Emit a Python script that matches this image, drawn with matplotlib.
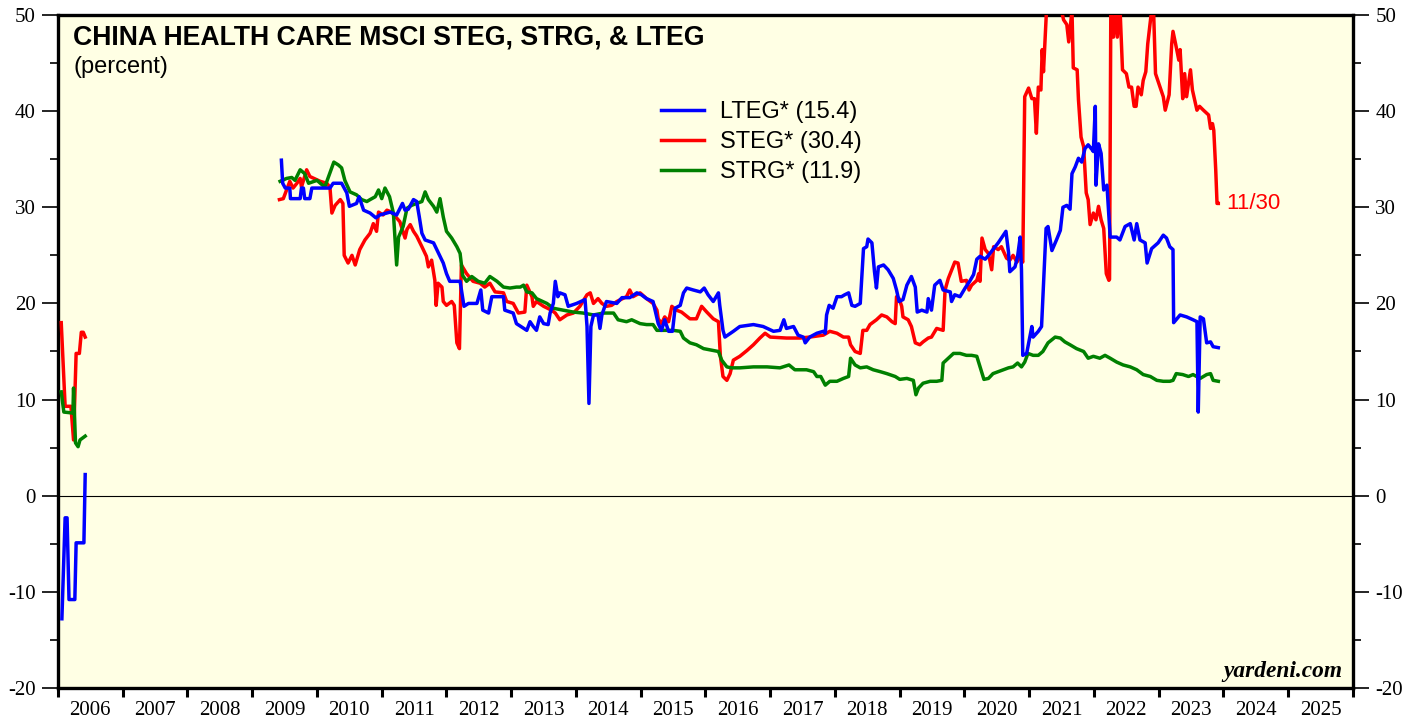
import numpy as np
import matplotlib
matplotlib.use("Agg")
import matplotlib.pyplot as plt
from matplotlib.ticker import FixedLocator, NullFormatter

plt.rcParams["axes.unicode_minus"] = False
nan = float("nan")

# ---------------- data (decimal years, percent) ----------------
lteg_dates = [2006.06, 2006.11, 2006.14, 2006.17, 2006.26, 2006.28, 2006.40, 2006.42, 2006.43,
              2009.45, 2009.47, 2009.51, 2009.58, 2009.59, 2009.74, 2009.76, 2009.79, 2009.81, 2009.89,
              2009.92, 2010.20, 2010.25, 2010.38, 2010.46, 2010.50, 2010.61, 2010.65, 2010.72, 2010.82,
              2010.91, 2010.97, 2011.13, 2011.23, 2011.32, 2011.36, 2011.41, 2011.49, 2011.54, 2011.58,
              2011.62, 2011.67, 2011.80, 2011.85, 2011.90, 2011.95, 2012.00, 2012.05, 2012.21, 2012.27,
              2012.34, 2012.47, 2012.53, 2012.56, 2012.65, 2012.70, 2012.88, 2012.90, 2013.03, 2013.08,
              2013.24, 2013.29, 2013.34, 2013.39, 2013.44, 2013.50, 2013.57, 2013.60, 2013.65, 2013.68,
              2013.72, 2013.75, 2013.83, 2013.88, 2014.01, 2014.14, 2014.17, 2014.20, 2014.23, 2014.27,
              2014.34, 2014.37, 2014.40, 2014.47, 2014.63, 2014.71, 2014.83, 2014.94, 2015.01, 2015.09,
              2015.19, 2015.27, 2015.32, 2015.37, 2015.43, 2015.49, 2015.53, 2015.61, 2015.66, 2015.71,
              2015.81, 2015.92, 2015.98, 2016.04, 2016.12, 2016.20, 2016.22, 2016.27, 2016.30, 2016.43,
              2016.53, 2016.74, 2016.89, 2017.05, 2017.15, 2017.21, 2017.25, 2017.36, 2017.43, 2017.51,
              2017.54, 2017.61, 2017.72, 2017.82, 2017.85, 2017.87, 2017.91, 2017.97, 2018.03, 2018.10,
              2018.15, 2018.21, 2018.26, 2018.31, 2018.39, 2018.44, 2018.49, 2018.51, 2018.57, 2018.61,
              2018.64, 2018.67, 2018.75, 2018.82, 2018.90, 2018.95, 2018.99, 2019.05, 2019.11, 2019.18,
              2019.24, 2019.27, 2019.34, 2019.42, 2019.44, 2019.49, 2019.54, 2019.62, 2019.67, 2019.78,
              2019.80, 2019.85, 2019.93, 2020.01, 2020.08, 2020.14, 2020.19, 2020.24, 2020.32, 2020.37,
              2020.44, 2020.52, 2020.57, 2020.64, 2020.68, 2020.70, 2020.78, 2020.82, 2020.86, 2020.88,
              2020.90, 2020.96, 2021.04, 2021.06, 2021.14, 2021.19, 2021.26, 2021.29, 2021.35, 2021.42,
              2021.48, 2021.52, 2021.58, 2021.63, 2021.66, 2021.71, 2021.76, 2021.81, 2021.86, 2021.91,
              2021.97, 2021.99, 2022.02, 2022.03, 2022.07, 2022.11, 2022.15, 2022.20, 2022.25, 2022.35,
              2022.40, 2022.48, 2022.56, 2022.62, 2022.66, 2022.71, 2022.79, 2022.82, 2022.89, 2022.99,
              2023.07, 2023.12, 2023.17, 2023.22, 2023.23, 2023.33, 2023.43, 2023.53, 2023.59, 2023.61,
              2023.64, 2023.69, 2023.74, 2023.80, 2023.84, 2023.92]
lteg_values = [-12.8, -2.3, -2.3, -10.8, -10.8, -4.9, -4.9, 2.2, nan,
               34.9, 32.5, 32.0, 32.0, 30.9, 30.9, 32.0, 32.0, 30.9, 30.9,
               32.0, 32.0, 32.5, 32.5, 31.5, 30.1, 30.4, 31.1, 29.7, 29.4,
               28.9, 29.2, 29.5, 29.2, 30.4, 29.7, 29.8, 30.8, 30.6, 29.0,
               27.3, 26.6, 26.3, 25.6, 24.9, 24.2, 23.1, 22.3, 22.3, 19.7,
               20.0, 20.0, 21.4, 19.3, 19.0, 20.7, 20.7, 19.3, 19.0, 17.9,
               17.2, 18.1, 17.6, 17.2, 18.6, 17.9, 17.8, 19.0, 20.0, 22.3,
               20.7, 21.1, 20.9, 19.7, 20.0, 20.4, 17.6, 9.6, 17.6, 18.8,
               18.8, 17.4, 18.8, 20.2, 20.0, 20.6, 20.6, 21.1, 20.9, 20.5,
               20.2, 17.9, 17.2, 18.3, 17.1, 17.1, 19.5, 19.8, 21.1, 21.6,
               21.4, 21.2, 21.6, 20.9, 20.2, 21.1, 19.8, 17.2, 16.5, 17.1,
               17.6, 17.8, 17.6, 17.1, 17.2, 18.3, 17.4, 17.6, 16.7, 16.5,
               15.9, 16.5, 16.9, 17.1, 16.9, 18.8, 19.8, 19.5, 20.7, 20.7,
               20.9, 21.1, 19.8, 19.7, 20.0, 25.7, 25.9, 26.7, 26.3, 23.3,
               21.6, 23.8, 24.0, 23.5, 22.6, 21.4, 20.2, 20.4, 21.9, 22.8,
               21.7, 19.1, 19.3, 19.1, 20.5, 19.3, 21.9, 22.4, 21.4, 21.2,
               20.2, 20.9, 20.7, 21.6, 22.3, 23.0, 24.6, 24.9, 24.6, 25.0,
               25.6, 26.3, 26.8, 27.5, 25.3, 23.3, 23.8, 24.9, 26.9, 23.5,
               14.6, 14.8, 17.6, 16.5, 17.1, 17.6, 27.8, 28.0, 25.5, 26.6,
               27.6, 30.0, 30.2, 29.8, 33.5, 34.2, 35.1, 34.7, 36.1, 36.5,
               36.0, 35.8, 40.5, 32.3, 36.6, 35.6, 31.8, 32.3, 26.9, 26.9,
               26.6, 28.0, 28.3, 26.6, 28.3, 26.6, 26.3, 24.2, 25.7, 26.3,
               27.1, 26.8, 25.9, 25.6, 18.0, 18.8, 18.6, 18.3, 18.1, 8.7,
               18.6, 18.4, 15.9, 16.0, 15.5, 15.4]

steg_dates = [2006.05, 2006.11, 2006.20, 2006.24, 2006.28, 2006.33, 2006.36, 2006.39, 2006.42, 2006.43,
              2009.42, 2009.48, 2009.53, 2009.58, 2009.63, 2009.69, 2009.74, 2009.76, 2009.84, 2009.89,
              2010.05, 2010.15, 2010.20, 2010.23, 2010.28, 2010.36, 2010.40, 2010.42, 2010.48, 2010.54,
              2010.59, 2010.66, 2010.74, 2010.82, 2010.87, 2010.92, 2010.95, 2011.02, 2011.08, 2011.15,
              2011.28, 2011.36, 2011.39, 2011.44, 2011.49, 2011.54, 2011.62, 2011.69, 2011.72, 2011.77,
              2011.82, 2011.84, 2011.87, 2011.93, 2011.95, 2012.00, 2012.08, 2012.12, 2012.16, 2012.20,
              2012.23, 2012.31, 2012.41, 2012.52, 2012.59, 2012.67, 2012.75, 2012.88, 2012.93, 2013.03,
              2013.11, 2013.21, 2013.24, 2013.32, 2013.34, 2013.39, 2013.50, 2013.62, 2013.68, 2013.75,
              2013.86, 2013.96, 2014.06, 2014.17, 2014.22, 2014.27, 2014.34, 2014.40, 2014.47, 2014.55,
              2014.63, 2014.78, 2014.83, 2014.88, 2014.99, 2015.09, 2015.19, 2015.25, 2015.27, 2015.32,
              2015.37, 2015.43, 2015.48, 2015.55, 2015.63, 2015.76, 2015.86, 2015.94, 2016.02, 2016.12,
              2016.20, 2016.23, 2016.27, 2016.33, 2016.38, 2016.43, 2016.53, 2016.64, 2016.74, 2016.84,
              2016.92, 2017.00, 2017.25, 2017.46, 2017.61, 2017.82, 2017.92, 2018.03, 2018.13, 2018.21,
              2018.24, 2018.31, 2018.39, 2018.43, 2018.49, 2018.54, 2018.64, 2018.72, 2018.80, 2018.88,
              2018.93, 2018.95, 2018.99, 2019.03, 2019.05, 2019.13, 2019.18, 2019.24, 2019.31, 2019.36,
              2019.44, 2019.49, 2019.57, 2019.67, 2019.70, 2019.75, 2019.85, 2019.90, 2019.95, 2020.03,
              2020.07, 2020.11, 2020.19, 2020.22, 2020.24, 2020.27, 2020.32, 2020.37, 2020.42, 2020.45,
              2020.52, 2020.57, 2020.65, 2020.70, 2020.75, 2020.81, 2020.86, 2020.90, 2020.93, 2020.99,
              2021.04, 2021.08, 2021.11, 2021.14, 2021.18, 2021.20, 2021.22, 2021.27, 2021.31, 2021.39,
              2021.48, 2021.53, 2021.58, 2021.61, 2021.66, 2021.68, 2021.74, 2021.76, 2021.80, 2021.84,
              2021.88, 2021.91, 2021.94, 2021.99, 2022.03, 2022.07, 2022.11, 2022.15, 2022.19, 2022.23,
              2022.24, 2022.26, 2022.30, 2022.34, 2022.36, 2022.40, 2022.44, 2022.50, 2022.54, 2022.58,
              2022.62, 2022.65, 2022.68, 2022.73, 2022.76, 2022.80, 2022.83, 2022.89, 2022.92, 2022.95,
              2023.02, 2023.07, 2023.10, 2023.16, 2023.20, 2023.22, 2023.26, 2023.31, 2023.33, 2023.37,
              2023.40, 2023.43, 2023.49, 2023.52, 2023.59, 2023.63, 2023.69, 2023.77, 2023.80, 2023.83,
              2023.85, 2023.88, 2023.90, 2023.92]
steg_values = [18.0, 9.3, 9.3, 5.8, 14.8, 14.8, 17.0, 17.0, 16.5, nan,
               30.8, 30.9, 31.8, 32.7, 32.0, 32.5, 33.0, 32.1, 33.9, 33.2,
               32.7, 32.5, 32.1, 29.4, 30.2, 30.8, 30.4, 25.0, 24.2, 25.0,
               24.0, 25.6, 26.6, 27.3, 28.3, 27.5, 29.5, 29.2, 29.7, 29.5,
               28.5, 26.8, 27.7, 28.2, 27.5, 27.0, 25.9, 24.9, 23.8, 24.5,
               22.4, 19.8, 22.1, 21.7, 20.2, 19.8, 20.2, 19.8, 15.9, 15.3,
               24.0, 23.1, 22.3, 22.1, 21.7, 22.1, 21.2, 21.1, 20.2, 20.0,
               19.0, 19.1, 21.9, 20.7, 19.7, 20.2, 19.7, 19.3, 19.0, 18.3,
               18.8, 19.0, 19.7, 20.9, 21.1, 20.0, 20.5, 20.0, 19.7, 19.8,
               20.2, 20.7, 21.4, 20.7, 21.1, 20.5, 20.0, 19.3, 18.4, 17.9,
               18.6, 18.1, 19.7, 19.3, 19.1, 18.4, 18.4, 19.7, 19.1, 18.4,
               18.1, 14.5, 12.4, 12.0, 12.7, 14.1, 14.5, 15.1, 15.7, 16.4,
               16.9, 16.5, 16.4, 16.4, 16.5, 16.7, 17.1, 16.9, 16.5, 16.5,
               15.7, 15.0, 14.8, 17.2, 17.2, 17.8, 18.3, 18.8, 18.6, 18.1,
               17.9, 20.7, 20.5, 19.7, 18.6, 18.3, 17.6, 15.9, 15.7, 16.0,
               16.4, 16.5, 17.4, 17.2, 21.4, 22.6, 24.3, 24.2, 22.3, 22.4,
               21.4, 21.9, 22.4, 23.1, 22.3, 26.8, 25.6, 25.2, 23.5, 25.9,
               25.6, 25.9, 24.7, 24.5, 25.0, 24.3, 24.9, 24.3, 41.5, 42.4,
               41.3, 41.3, 37.7, 42.5, 42.2, 46.4, 44.1, 51.0, 52.0, 51.0,
               51.0, 49.5, 49.0, 47.2, 50.5, 44.5, 44.3, 41.2, 37.3, 36.3,
               31.5, 30.8, 28.2, 29.4, 28.7, 30.1, 28.7, 27.8, 23.1, 22.4,
               22.5, 51.0, 47.7, 51.0, 47.7, 51.0, 44.3, 43.9, 42.5, 42.5,
               40.5, 40.5, 42.5, 41.7, 43.2, 44.1, 47.0, 50.5, 50.5, 43.9,
               42.5, 41.5, 40.1, 41.7, 47.0, 48.3, 47.0, 45.3, 46.4, 41.3,
               43.9, 41.5, 44.3, 42.2, 40.1, 40.5, 40.1, 39.6, 38.2, 38.7,
               38.0, 33.9, 30.4, 30.4]

strg_dates = [2006.05, 2006.09, 2006.23, 2006.24, 2006.27, 2006.31, 2006.34, 2006.42, 2006.43,
              2009.43, 2009.53, 2009.61, 2009.66, 2009.74, 2009.81, 2009.87, 2010.00, 2010.12, 2010.19,
              2010.26, 2010.33, 2010.38, 2010.43, 2010.51, 2010.61, 2010.69, 2010.77, 2010.82, 2010.90,
              2010.95, 2011.00, 2011.05, 2011.12, 2011.18, 2011.23, 2011.26, 2011.33, 2011.39, 2011.46,
              2011.54, 2011.62, 2011.67, 2011.72, 2011.80, 2011.85, 2011.90, 2011.95, 2012.00, 2012.08,
              2012.16, 2012.21, 2012.25, 2012.31, 2012.39, 2012.49, 2012.59, 2012.67, 2012.78, 2012.88,
              2012.98, 2013.08, 2013.14, 2013.19, 2013.24, 2013.32, 2013.39, 2013.55, 2013.65, 2013.80,
              2013.96, 2014.11, 2014.27, 2014.42, 2014.58, 2014.65, 2014.78, 2014.86, 2014.99, 2015.09,
              2015.19, 2015.25, 2015.40, 2015.50, 2015.61, 2015.66, 2015.76, 2015.86, 2015.97, 2016.12,
              2016.20, 2016.25, 2016.33, 2016.40, 2016.53, 2016.74, 2016.95, 2017.15, 2017.29, 2017.38,
              2017.56, 2017.67, 2017.72, 2017.78, 2017.85, 2017.92, 2018.03, 2018.13, 2018.21, 2018.24,
              2018.31, 2018.39, 2018.49, 2018.59, 2018.70, 2018.80, 2018.93, 2019.00, 2019.11, 2019.21,
              2019.25, 2019.29, 2019.36, 2019.47, 2019.57, 2019.65, 2019.67, 2019.75, 2019.83, 2019.93,
              2020.03, 2020.11, 2020.19, 2020.24, 2020.30, 2020.37, 2020.44, 2020.52, 2020.60, 2020.68,
              2020.75, 2020.82, 2020.88, 2020.93, 2020.98, 2021.06, 2021.14, 2021.21, 2021.29, 2021.40,
              2021.48, 2021.55, 2021.63, 2021.73, 2021.84, 2021.91, 2021.99, 2022.09, 2022.17, 2022.25,
              2022.35, 2022.45, 2022.56, 2022.66, 2022.76, 2022.87, 2022.97, 2023.07, 2023.17, 2023.22,
              2023.27, 2023.37, 2023.46, 2023.53, 2023.64, 2023.74, 2023.80, 2023.84, 2023.92]
strg_values = [10.8, 8.7, 8.6, 11.2, 5.5, 5.1, 5.8, 6.2, nan,
               32.7, 33.0, 33.1, 32.8, 33.9, 33.5, 32.5, 32.8, 32.1, 33.4,
               34.7, 34.4, 34.1, 32.8, 31.6, 31.3, 30.8, 30.6, 30.8, 31.1,
               31.8, 30.9, 32.0, 31.1, 29.4, 24.0, 26.9, 28.0, 29.9, 30.2,
               30.4, 30.6, 31.6, 30.8, 30.1, 29.5, 30.9, 29.0, 27.5, 26.8,
               25.9, 25.2, 22.9, 22.3, 22.8, 22.3, 22.1, 22.8, 22.3, 21.7,
               21.6, 21.7, 21.7, 21.9, 21.2, 21.1, 20.5, 20.0, 19.5, 19.3,
               19.1, 19.0, 18.8, 19.0, 19.0, 18.3, 18.1, 18.3, 17.9, 17.8,
               17.8, 17.2, 17.2, 17.2, 17.1, 16.4, 15.9, 15.7, 15.3, 15.1,
               15.0, 14.1, 13.4, 13.3, 13.3, 13.4, 13.4, 13.3, 13.6, 13.1,
               13.1, 12.9, 12.4, 12.4, 11.5, 11.9, 11.9, 12.2, 12.4, 14.3,
               13.6, 13.3, 13.4, 13.1, 12.9, 12.7, 12.4, 12.1, 12.2, 12.0,
               10.5, 11.2, 11.7, 11.9, 11.9, 12.0, 13.8, 14.3, 14.8, 14.8,
               14.6, 14.6, 14.5, 13.4, 12.1, 12.2, 12.7, 12.9, 13.1, 13.3,
               13.4, 13.8, 13.4, 13.9, 14.8, 14.6, 14.6, 15.0, 15.9, 16.5,
               16.4, 16.0, 15.7, 15.3, 15.0, 14.3, 14.5, 14.3, 14.6, 14.3,
               13.9, 13.6, 13.4, 13.1, 12.6, 12.4, 12.0, 11.9, 11.9, 12.0,
               12.7, 12.6, 12.4, 12.6, 12.2, 12.6, 12.7, 12.0, 11.9]

years = list(range(2006, 2026))
series_labels = ["LTEG* (15.4)", "STEG* (30.4)", "STRG* (11.9)"]
last_date_label = "11/30"

# ---------------- figure ----------------
SANS = ["Liberation Sans", "DejaVu Sans"]
SERIF = ["Liberation Serif", "DejaVu Serif"]

fig = plt.figure(figsize=(14.19, 7.19), dpi=100)
ax = fig.add_axes([58 / 1419, 1 - 688 / 719, (1353 - 58) / 1419, (688 - 15) / 719])
ax.set_facecolor("#FFFFE4")

lw = 2.5
ax.plot(lteg_dates, lteg_values, color="#0000FF", lw=lw, label=series_labels[0], zorder=4)
ax.plot(steg_dates, steg_values, color="#FF0000", lw=lw, label=series_labels[1], zorder=3)
ax.plot(strg_dates, strg_values, color="#008000", lw=lw, label=series_labels[2], zorder=3)
ax.axhline(0, color="black", lw=0.8, zorder=2)

ax.set_xlim(2006, 2026)
ax.set_ylim(-20, 50)

for s in ax.spines.values():
    s.set_linewidth(2.4)
    s.set_color("black")

# y ticks both sides
ax.set_yticks(np.arange(-20, 51, 10))
ax.yaxis.set_minor_locator(FixedLocator(np.arange(-15, 50, 10)))
ax.tick_params(axis="y", which="major", direction="out", length=11.5, width=1.2,
               left=True, right=True, labelleft=True, labelright=True, pad=4.5,
               labelsize=15)
ax.tick_params(axis="y", which="minor", direction="out", length=6, width=1.2,
               left=True, right=True)
for lab in ax.get_yticklabels():
    lab.set_fontfamily(SERIF)

# x ticks: boundaries as major ticks, year labels centered as minor
ax.set_xticks(np.arange(2006, 2027, 1))
ax.xaxis.set_major_formatter(NullFormatter())
ax.set_xticks([y + 0.5 for y in years], minor=True)
ax.set_xticklabels([str(y) for y in years], minor=True)
ax.tick_params(axis="x", which="major", direction="out", length=6.5, width=2.2)
ax.tick_params(axis="x", which="minor", length=0, pad=9.5, labelsize=15)
for lab in ax.get_xticklabels(minor=True):
    lab.set_fontfamily(SERIF)

# titles
ax.text(0.0116, 0.956, "CHINA HEALTH CARE MSCI STEG, STRG, & LTEG", transform=ax.transAxes,
        fontsize=19.2, fontweight="bold", family=SANS, va="baseline", ha="left")
ax.text(0.0116, 0.914, "(percent)", transform=ax.transAxes,
        fontsize=17, family=SANS, va="baseline", ha="left")

leg = ax.legend(loc="upper left", bbox_to_anchor=(0.466, 0.872), frameon=False,
                prop={"family": SANS, "size": 17}, handlelength=1.82, handletextpad=0.64,
                labelspacing=0.34, borderpad=0, borderaxespad=0)

ax.annotate(last_date_label, xy=(steg_dates[-1], steg_values[-1]), xytext=(6, 0),
            textcoords="offset points", color="#FF0000", fontsize=16, family=SANS,
            va="center", ha="left")

ax.text(0.992, 0.016, "yardeni.com", transform=ax.transAxes, fontsize=16.8,
        fontweight="bold", fontstyle="italic", family=SERIF, ha="right", va="baseline")

fig.savefig("out.png", dpi=100, facecolor="white")
